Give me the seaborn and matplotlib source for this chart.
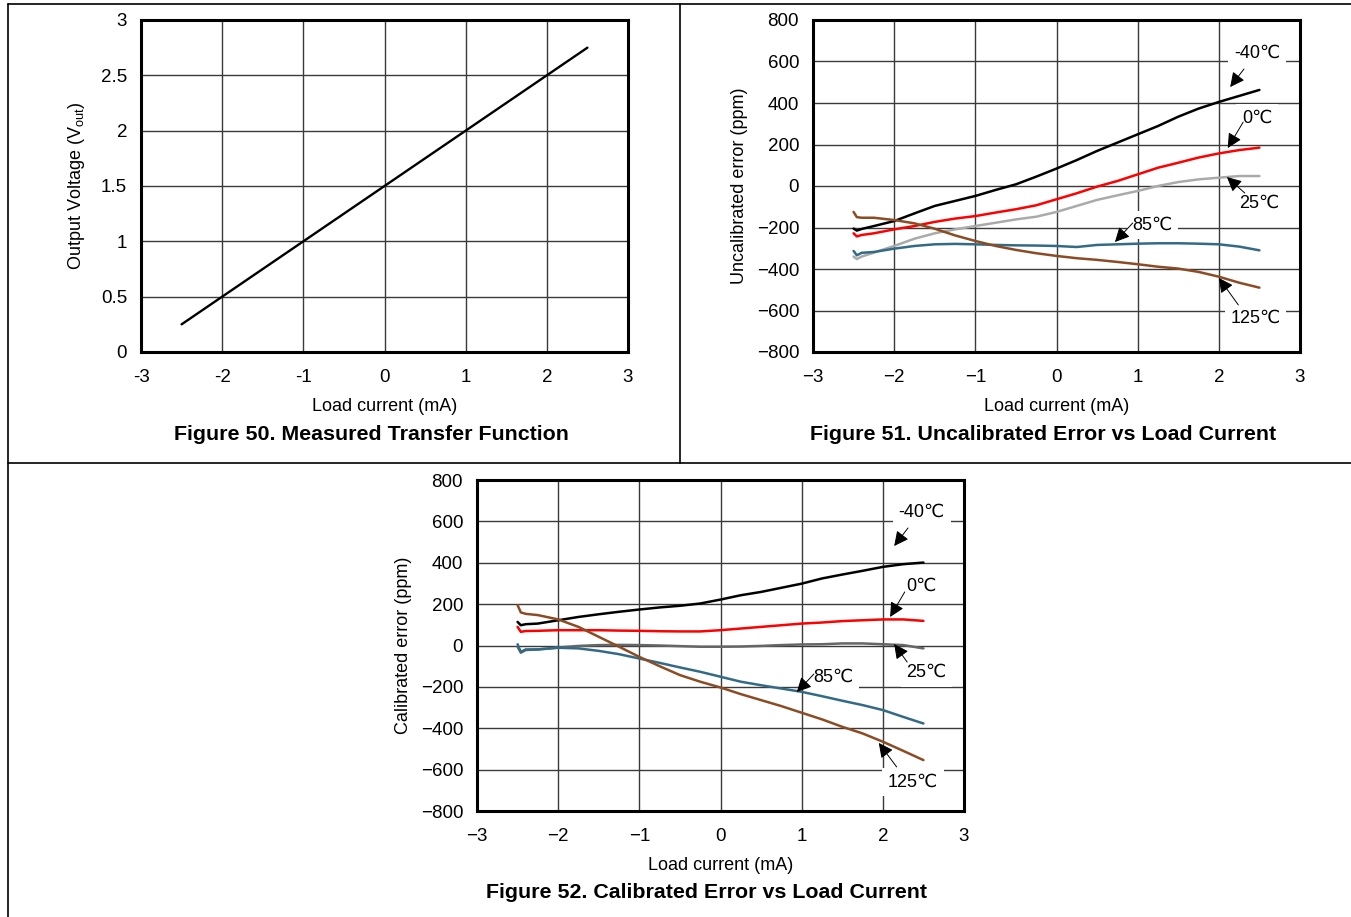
import numpy as np
import pandas as pd
import matplotlib
matplotlib.use("Agg")
import matplotlib.pyplot as plt
from matplotlib.lines import Line2D
import seaborn as sns

# Figure 50 - transfer function
tf_current = [-2.5, 2.5]
tf_vout = [0.25, 2.75]

# load current samples shared by both error plots (mA)
load_current = [-2.5, -2.46, -2.4, -2.25, -2.0, -1.75, -1.5, -1.25, -1.0, -0.75, -0.5, -0.25,
                0.0, 0.25, 0.5, 0.75, 1.0, 1.25, 1.5, 1.75, 2.0, 2.25, 2.5]

# Figure 51 - uncalibrated error (ppm)
unc_m40 = [-205, -215, -207, -193, -169, -132, -96, -72, -48, -19, 8, 45,
           84, 125, 169, 209, 249, 289, 334, 373, 405, 434, 463]
unc_0 = [-228, -243, -236, -228, -209, -193, -173, -157, -145, -128, -112, -93,
         -64, -35, -3, 24, 56, 88, 112, 137, 157, 173, 185]
unc_25 = [-340, -352, -340, -321, -289, -254, -228, -209, -193, -177, -161, -148,
          -125, -96, -67, -45, -24, 0, 19, 32, 40, 48, 48]
unc_85 = [-313, -334, -322, -318, -302, -289, -281, -279, -281, -284, -286, -287,
          -289, -294, -284, -281, -278, -276, -276, -278, -281, -292, -310]
unc_125 = [-125, -150, -153, -153, -164, -180, -206, -238, -265, -289, -308, -324,
           -337, -348, -356, -366, -377, -389, -398, -414, -437, -466, -490]

# Figure 52 - calibrated error (ppm)
cal_m40 = [114, 98, 103, 106, 122, 138, 151, 163, 174, 184, 192, 203,
           222, 243, 259, 279, 299, 324, 343, 361, 380, 393, 401]
cal_0 = [90, 66, 70, 71, 74, 74, 74, 72, 71, 69, 68, 68,
         74, 82, 90, 98, 106, 111, 118, 122, 126, 126, 119]
cal_25 = [-6, -35, -22, -19, -10, -2, 2, 3, 2, 0, -3, -6,
          -6, -5, -2, 2, 5, 6, 10, 10, 6, 2, -14]
cal_85 = [6, -31, -19, -19, -11, -14, -26, -42, -63, -84, -106, -127,
          -151, -175, -192, -208, -224, -245, -267, -288, -312, -345, -377]
cal_125 = [195, 160, 153, 147, 126, 90, 42, -6, -55, -100, -143, -175,
           -203, -235, -264, -293, -325, -357, -393, -425, -465, -509, -554]

temps = ["-40℃", "0℃", "25℃", "85℃", "125℃"]
colors51 = ["#000000", "#ff0000", "#aaaaaa", "#336b87", "#8b4c24"]
colors52 = ["#000000", "#ff0000", "#666666", "#336b87", "#8b4c24"]

# label text, label position, arrow tail, arrow tip (data coords)
notes51 = [("-40℃", (2.47, 641), (2.31, 564), (2.14, 477)),
           ("0℃", (2.47, 328), (2.30, 308), (2.11, 183)),
           ("25℃", (2.50, -82), (2.32, -34), (2.10, 43)),
           ("85℃", (1.18, -188), (0.94, -178), (0.72, -270)),
           ("125℃", (2.45, -636), (2.24, -573), (2.00, -443))]
notes52 = [("-40℃", (2.48, 642), (2.31, 568), (2.14, 481)),
           ("0℃", (2.48, 284), (2.27, 259), (2.09, 138)),
           ("25℃", (2.54, -131), (2.30, -80), (2.14, 7)),
           ("85℃", (1.39, -152), (1.15, -138), (0.94, -225)),
           ("125℃", (2.37, -660), (2.17, -587), (1.95, -471))]

sns.set_theme(style="white")
plt.rcParams["font.family"] = ["Liberation Sans", "DejaVu Sans"]
plt.rcParams["mathtext.fontset"] = "custom"
plt.rcParams["mathtext.rm"] = "Liberation Sans"

W, H = 1351, 917
fig = plt.figure(figsize=(W / 100, H / 100), dpi=100)


def px_axes(l, t, r, b):
    return fig.add_axes([l / W, 1 - b / H, (r - l) / W, (b - t) / H])


def style(ax, yticks, ylabels, xlabels):
    ax.set_xlim(-3, 3)
    ax.set_xticks(range(-3, 4))
    ax.set_xticklabels(xlabels)
    ax.set_ylim(yticks[0], yticks[-1])
    ax.set_yticks(yticks)
    ax.set_yticklabels(ylabels)
    ax.grid(True, color="#3a3a3a", lw=1.0)
    ax.set_axisbelow(True)
    for s in ax.spines.values():
        s.set_color("black")
        s.set_linewidth(2.2)
        s.set_zorder(5)
    ax.tick_params(length=0, labelsize=13.5, colors="black")
    ax.tick_params(axis="x", pad=12)
    ax.tick_params(axis="y", pad=10)
    ax.set_xlabel("Load current (mA)", fontsize=13, labelpad=9, color="black")


# Figure 50
ax1 = px_axes(141, 20, 628, 352)
sns.lineplot(x=tf_current, y=tf_vout, ax=ax1, color="black", lw=1.7)
style(ax1, [0, 0.5, 1, 1.5, 2, 2.5, 3], ["0", "0.5", "1", "1.5", "2", "2.5", "3"],
      ["-3", "-2", "-1", "0", "1", "2", "3"])
ax1.set_ylabel(r"Output Voltage (V$_\mathregular{out}$)", fontsize=13, labelpad=10, color="black")


def error_panel(ax, series, colors, notes, ylab):
    df = pd.DataFrame({"current": load_current})
    for name, vals in zip(temps, series):
        df[name] = vals
    long = df.melt(id_vars="current", var_name="temp", value_name="err")
    sns.lineplot(data=long, x="current", y="err", hue="temp", palette=dict(zip(temps, colors)),
                 ax=ax, lw=1.8, legend=False, estimator=None, sort=False)
    yt = list(range(-800, 801, 200))
    style(ax, yt, [str(v).replace("-", "−") for v in yt],
          ["−3", "−2", "−1", "0", "1", "2", "3"])
    ax.set_ylabel(ylab, fontsize=13, labelpad=6, color="black")
    for text, tpos, tail, tip in notes:
        ax.text(*tpos, text, ha="center", va="center", fontsize=13, color="black", zorder=4,
                bbox=dict(facecolor="white", edgecolor="none", pad=4))
        ax.annotate("", xy=tip, xytext=tail, zorder=6,
                    arrowprops=dict(arrowstyle="-|>", mutation_scale=22, lw=0.7,
                                    color="black", shrinkA=0, shrinkB=0))


ax2 = px_axes(813, 20, 1300, 352)
error_panel(ax2, [unc_m40, unc_0, unc_25, unc_85, unc_125], colors51, notes51,
            "Uncalibrated error (ppm)")

ax3 = px_axes(477, 480, 964, 811)
error_panel(ax3, [cal_m40, cal_0, cal_25, cal_85, cal_125], colors52, notes52,
            "Calibrated error (ppm)")

# captions
cap = dict(fontsize=15.4, fontweight="bold", ha="center", va="center", color="black")
fig.text(371 / W, 1 - 434 / H, "Figure 50. Measured Transfer Function", **cap)
fig.text(1043 / W, 1 - 434 / H, "Figure 51. Uncalibrated Error vs Load Current", **cap)
fig.text(707 / W, 1 - 892 / H, "Figure 52. Calibrated Error vs Load Current", **cap)

# page frame lines
frame = [((8, W), (4, 4)), ((8, 8), (4, H)), ((680, 680), (4, 463)), ((8, W), (463, 463))]
for xs, ys in frame:
    fig.add_artist(Line2D([x / W for x in xs], [1 - y / H for y in ys], color="black", lw=1.2))

fig.savefig("out.png", dpi=100, facecolor="white")
